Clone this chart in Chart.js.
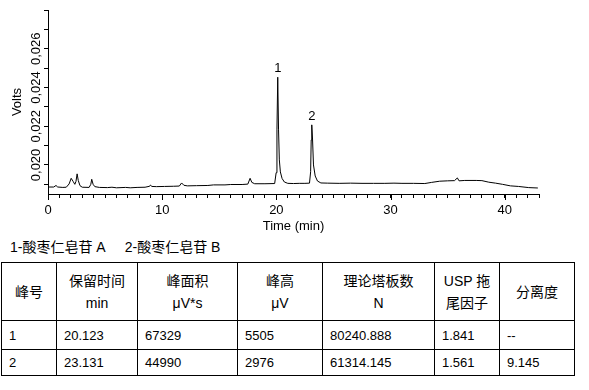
<!DOCTYPE html>
<html>
<head>
<meta charset="utf-8">
<script src="https://cdn.jsdelivr.net/npm/chart.js@4/dist/chart.umd.min.js"></script>
<style>
  body { margin: 0; background: #fff; font-family: "Liberation Sans", "Noto Sans CJK SC", sans-serif; }
  #wrap { position: relative; width: 589px; height: 236px; }
  .legend { height: 26px; line-height: 22px; padding-left: 10px; font-size: 14px; color: #000; }
  table { border-collapse: collapse; table-layout: fixed; width: 574px; margin-left: 1px; color: #000; }
  td, th { border: 1px solid #000; padding: 0; }
  th { font-weight: normal; font-size: 14px; line-height: 22px; text-align: center; vertical-align: middle; height: 57px; }
  td { font-size: 13px; text-align: left; padding-left: 7px; }
  tr.r1 td { height: 28px; }
  tr.r2 td { height: 25px; }
</style>
</head>
<body>
<div id="wrap"><canvas id="myChart" width="589" height="236"></canvas></div>
<div class="legend">1-酸枣仁皂苷 A<span style="margin-left:19px">2-酸枣仁皂苷 B</span></div>
<table>
  <colgroup>
    <col style="width:55px"><col style="width:81px"><col style="width:100px"><col style="width:85px">
    <col style="width:112px"><col style="width:65px"><col style="width:75px">
  </colgroup>
  <tr><th>峰号</th><th>保留时间<br>min</th><th>峰面积<br>μV*s</th><th>峰高<br>μV</th><th>理论塔板数<br>N</th><th>USP 拖<br>尾因子</th><th>分离度</th></tr>
  <tr class="r1"><td>1</td><td>20.123</td><td>67329</td><td>5505</td><td>80240.888</td><td>1.841</td><td>--</td></tr>
  <tr class="r2"><td>2</td><td>23.131</td><td>44990</td><td>2976</td><td>61314.145</td><td>1.561</td><td>9.145</td></tr>
</table>
<script>
// chromatogram trace, time in min, signal in volts
const times = [0.0, 0.5, 0.7, 0.85, 1.3, 1.6, 1.85, 2.03, 2.2, 2.35, 2.45, 2.55, 2.65, 2.8, 3.0, 3.6, 3.75, 3.83, 3.95, 4.1,
  4.5, 5.2, 5.6, 6.0, 6.8, 7.2, 7.8, 8.5, 8.9, 8.97, 9.1, 9.5, 10.2, 11.0, 11.5, 11.7, 11.9, 12.2, 13.0, 14.0,
  14.5, 15.5, 16.0, 17.0, 17.5, 17.7, 17.85, 18.1, 19.0, 19.85, 19.98, 20.05, 20.12, 20.19, 20.26, 20.35, 20.5, 20.7, 21.0, 21.5,
  22.0, 22.5, 22.9, 23.0, 23.05, 23.1, 23.17, 23.25, 23.4, 23.6, 23.9, 24.5, 25.5, 26.5, 27.5, 28.5, 29.5, 30.3, 31.0, 32.0,
  33.0, 33.6, 34.3, 35.0, 35.6, 35.85, 36.0, 36.5, 37.5, 38.0, 38.6, 39.2, 39.8, 40.5, 41.2, 42.1, 42.9];
const volts = [0.01886, 0.01886, 0.01894, 0.01886, 0.01884, 0.01885, 0.01902, 0.01931, 0.01915, 0.01900, 0.01915, 0.01954, 0.01920, 0.01893, 0.01885, 0.01884, 0.01900, 0.01926, 0.01900, 0.01888,
  0.01884, 0.01883, 0.01885, 0.01882, 0.01884, 0.01882, 0.01884, 0.01885, 0.01890, 0.01896, 0.01889, 0.01888, 0.01889, 0.01890, 0.01891, 0.01907, 0.01895, 0.01892, 0.01893, 0.01894,
  0.01897, 0.01897, 0.01899, 0.01899, 0.01901, 0.01931, 0.01910, 0.01903, 0.01903, 0.01904, 0.01960, 0.02181, 0.02453, 0.02181, 0.02026, 0.01964, 0.01930, 0.01912, 0.01905, 0.01904,
  0.01905, 0.01905, 0.01906, 0.01965, 0.02129, 0.02207, 0.02129, 0.02000, 0.01943, 0.01917, 0.01907, 0.01906, 0.01905, 0.01906, 0.01905, 0.01905, 0.01905, 0.01906, 0.01905, 0.01905,
  0.01904, 0.01910, 0.01916, 0.01918, 0.01919, 0.01933, 0.01918, 0.01920, 0.01920, 0.01919, 0.01911, 0.01906, 0.01900, 0.01892, 0.01889, 0.01883, 0.01881];

const peakTimes = [20.12, 23.1];
const peakVolts = [0.02453, 0.02207];
const peakNames = ['1', '2'];

const yTickValues = [0.019, 0.020, 0.021, 0.022, 0.023, 0.024, 0.025, 0.026, 0.027, 0.028];
const yLabelValues = [0.020, 0.022, 0.024, 0.026];
const xMajorTicks = [0, 10, 20, 30, 40];

const FONT = '"Liberation Sans", Arial, sans-serif';

// labels the chart cant do by itself: rotated y labels, peak numbers, long major ticks
const extras = {
  id: 'extras',
  afterDraw(chart) {
    const ctx = chart.ctx;
    const xs = chart.scales.x, ys = chart.scales.y;
    ctx.save();
    ctx.fillStyle = '#000';
    ctx.font = '13px ' + FONT;
    ctx.textAlign = 'center';
    ctx.textBaseline = 'middle';
    yLabelValues.forEach(v => {
      ctx.save();
      ctx.translate(36, ys.getPixelForValue(v));
      ctx.rotate(-Math.PI / 2);
      ctx.fillText(v.toFixed(3).replace('.', ','), 0, 0);
      ctx.restore();
    });
    ctx.textBaseline = 'bottom';
    peakTimes.forEach((t, i) => {
      ctx.fillText(peakNames[i], xs.getPixelForValue(t), ys.getPixelForValue(peakVolts[i]) - 2);
    });
    ctx.strokeStyle = '#000';
    ctx.lineWidth = 1;
    xMajorTicks.forEach(t => {
      const px = Math.round(xs.getPixelForValue(t)) + 0.5;
      ctx.beginPath();
      ctx.moveTo(px, xs.top);
      ctx.lineTo(px, xs.top + 6);
      ctx.stroke();
    });
    ctx.restore();
  }
};

new Chart(document.getElementById('myChart'), {
  type: 'line',
  data: {
    datasets: [{
      data: times.map((t, i) => ({ x: t, y: volts[i] })),
      borderColor: '#000',
      borderWidth: 1,
      pointRadius: 0,
      tension: 0,
      fill: false
    }]
  },
  options: {
    responsive: false,
    animation: false,
    devicePixelRatio: 1,
    layout: { padding: { top: 10, right: 50, left: 0, bottom: 0 } },
    plugins: { legend: { display: false }, tooltip: { enabled: false } },
    scales: {
      x: {
        type: 'linear',
        min: 0,
        max: 43,
        border: { display: true, color: '#000', width: 1 },
        grid: { drawOnChartArea: false, tickLength: 4, color: '#000' },
        ticks: {
          stepSize: 1,
          autoSkip: false,
          maxRotation: 0,
          padding: 5,
          color: '#000',
          font: { family: FONT, size: 13 },
          callback: v => (v % 10 === 0 ? String(v) : '')
        },
        title: { display: true, text: 'Time (min)', color: '#000', font: { family: FONT, size: 13 }, padding: { top: 0, bottom: 2 } },
        afterFit: s => { s.height = 42; }
      },
      y: {
        min: 0.0185,
        max: 0.028,
        border: { display: true, color: '#000', width: 1 },
        grid: { drawOnChartArea: false, tickLength: 4, color: '#000' },
        ticks: { display: false },
        afterBuildTicks: s => { s.ticks = yTickValues.map(v => ({ value: v })); },
        title: { display: true, text: 'Volts', color: '#000', font: { family: FONT, size: 13 }, padding: { top: 10, bottom: 0 } },
        afterFit: s => { s.width = 48; }
      }
    }
  },
  plugins: [extras]
});
</script>
</body>
</html>
